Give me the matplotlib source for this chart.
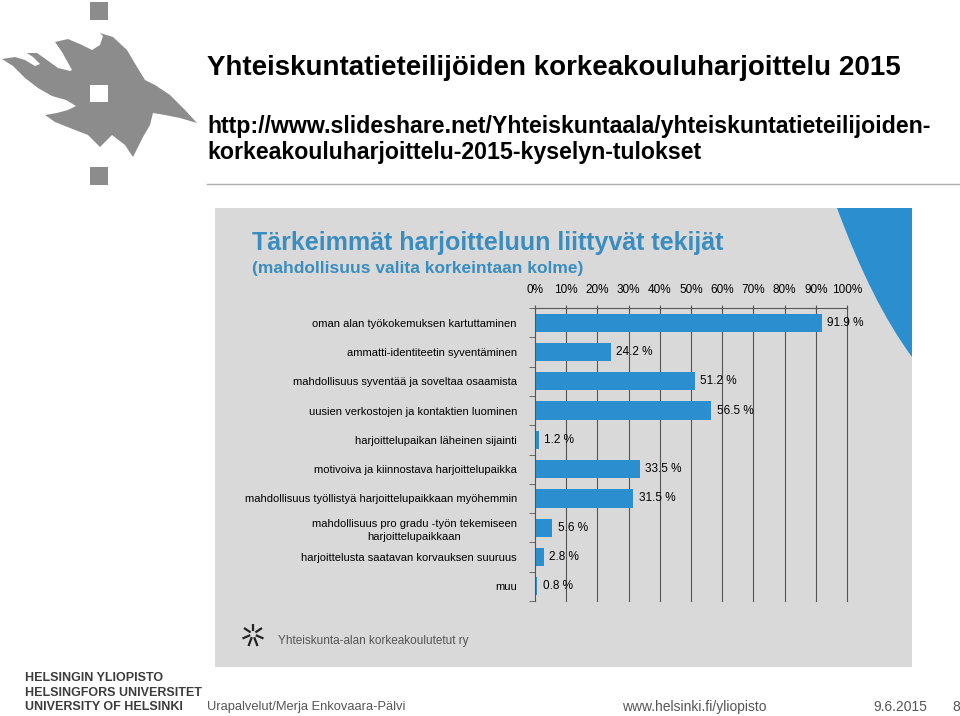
import matplotlib.pyplot as plt
from matplotlib.patches import Rectangle, Polygon, PathPatch
from matplotlib.path import Path

categories = [
    "oman alan työkokemuksen kartuttaminen",
    "ammatti-identiteetin syventäminen",
    "mahdollisuus syventää ja soveltaa osaamista",
    "uusien verkostojen ja kontaktien luominen",
    "harjoittelupaikan läheinen sijainti",
    "motivoiva ja kiinnostava harjoittelupaikka",
    "mahdollisuus työllistyä harjoittelupaikkaan myöhemmin",
    "mahdollisuus pro gradu -työn tekemiseen\nharjoittelupaikkaan",
    "harjoittelusta saatavan korvauksen suuruus",
    "muu",
]
values = [91.9, 24.2, 51.2, 56.5, 1.2, 33.5, 31.5, 5.6, 2.8, 0.8]
xticks = [0, 10, 20, 30, 40, 50, 60, 70, 80, 90, 100]
xtick_labels = ["%d%%" % t for t in xticks]

BLUE = "#2b8fcf"
PANEL = "#d9d9d9"
SANS = ["Liberation Sans", "DejaVu Sans"]

W, H = 960, 716
fig = plt.figure(figsize=(W / 100, H / 100), dpi=100)

# background axes in pixel coordinates for the slide decorations
bg = fig.add_axes([0, 0, 1, 1])
bg.set_xlim(0, W)
bg.set_ylim(H, 0)
bg.axis("off")

# gray panel + blue swoosh
bg.add_patch(Rectangle((215, 208), 912 - 215, 667 - 208, color=PANEL, lw=0))
swoosh = Path([(837, 208), (872, 303), (912, 357), (912, 208), (837, 208)],
              [Path.MOVETO, Path.CURVE3, Path.CURVE3, Path.LINETO, Path.CLOSEPOLY])
bg.add_patch(PathPatch(swoosh, facecolor=BLUE, lw=0))

# university logo (rough)
GRAY = "#8c8c8c"
flame = [(2, 59), (15, 57), (25, 60), (35, 66), (40, 64), (33, 57), (27, 53),
         (37, 53), (47, 60), (58, 68), (70, 71), (72, 70), (62, 52), (55, 42),
         (68, 39), (82, 45), (92, 50), (100, 45), (103, 36), (100, 33), (113, 37),
         (127, 50), (137, 67), (145, 80), (155, 85), (170, 95), (185, 110),
         (197, 123), (180, 118), (165, 115), (153, 113), (150, 125), (143, 137),
         (133, 157), (125, 145), (112, 135), (100, 147), (88, 135), (70, 128),
         (55, 122), (45, 115), (57, 113), (68, 110), (76, 106), (66, 100),
         (52, 96), (38, 88), (25, 78), (13, 66)]
bg.add_patch(Polygon(flame, closed=True, facecolor=GRAY, lw=0))
bg.add_patch(Rectangle((90, 2), 18, 18, color=GRAY, lw=0))
bg.add_patch(Rectangle((90, 85), 18, 17, color="white", lw=0))
bg.add_patch(Rectangle((90, 167), 18, 18, color=GRAY, lw=0))

# slide header
bg.text(207, 68, "Yhteiskuntatieteilijöiden korkeakouluharjoittelu 2015",
        fontsize=20, fontweight="bold", family=SANS, va="center")
bg.text(207, 127, "http://www.slideshare.net/Yhteiskuntaala/yhteiskuntatieteilijoiden-",
        fontsize=16.7, fontweight="bold", family=SANS, va="center")
bg.text(207, 152, "korkeakouluharjoittelu-2015-kyselyn-tulokset",
        fontsize=16.7, fontweight="bold", family=SANS, va="center")
bg.plot([207, 960], [184, 184], color="#b0b0b0", lw=1)

# chart titles
bg.text(252, 243, "Tärkeimmät harjoitteluun liittyvät tekijät", color="#3a8dbf",
        fontsize=18, fontweight="bold", family=SANS, va="center")
bg.text(252, 268, "(mahdollisuus valita korkeintaan kolme)", color="#3a8dbf",
        fontsize=12.5, fontweight="bold", family=SANS, va="center")

# association logo + name
for dx, dy in [(0, -7), (6, -4), (7, 3), (3, 8), (-3, 8), (-7, 3), (-6, -4)]:
    bg.plot([253 + dx * 0.4, 253 + dx * 1.5], [634 + dy * 0.4, 634 + dy * 1.5],
            color="#222222", lw=1.6, solid_capstyle="butt")
bg.text(278, 641, "Yhteiskunta-alan korkeakoulutetut ry", color="#555555",
        fontsize=8.5, family=SANS, va="center")

# footer
for y, t in zip([678, 693, 707], ["HELSINGIN YLIOPISTO", "HELSINGFORS UNIVERSITET",
                                  "UNIVERSITY OF HELSINKI"]):
    bg.text(25, y, t, fontsize=9, fontweight="bold", color="#3c3c3c",
            family=SANS, va="center")
bg.text(207, 707, "Urapalvelut/Merja Enkovaara-Pälvi", fontsize=9.3, color="#555555",
        family=SANS, va="center")
bg.text(622, 707, "www.helsinki.fi/yliopisto", fontsize=10, color="#555555",
        family=SANS, va="center")
bg.text(873, 707, "9.6.2015", fontsize=10, color="#555555", family=SANS, va="center")
bg.text(952, 707, "8", fontsize=10, color="#555555", family=SANS, va="center")

# bar chart
ax = fig.add_axes([535 / W, 1 - 601 / H, (847 - 535) / W, (601 - 308) / H])
ax.patch.set_alpha(0)
pos = list(range(len(categories)))
ax.barh(pos, values, height=0.62, color=BLUE, zorder=2)
ax.set_xlim(0, 100)
ax.set_ylim(len(categories) - 0.5, -0.5)

for x in xticks[1:]:
    ax.axvline(x, color="#555555", lw=0.8, zorder=1, clip_on=False)

for p, v in zip(pos, values):
    ax.text(v + 1.8, p, ("%.1f %%" % v), fontsize=8.5, family=SANS,
            va="center", ha="left", zorder=3)

ax.xaxis.tick_top()
ax.set_xticks(xticks)
ax.set_xticklabels(xtick_labels, fontsize=8.5, family=SANS)
ax.tick_params(axis="x", direction="inout", length=5, color="#555555", pad=6)

ax.set_yticks(pos)
ax.set_yticklabels(categories, fontsize=8, family=SANS, linespacing=1.4)
ax.set_yticks([p + 0.5 for p in range(-1, len(categories))], minor=True)
ax.tick_params(axis="y", which="major", length=0, pad=13)
ax.tick_params(axis="y", which="minor", length=4, color="#555555", direction="out")
for lab in ax.get_yticklabels():
    lab.set_horizontalalignment("right")
    lab.set_multialignment("center")

for s in ["right", "bottom"]:
    ax.spines[s].set_visible(False)
ax.spines["top"].set_color("#555555")
ax.spines["left"].set_color("#555555")

fig.savefig("out.png", dpi=100)
